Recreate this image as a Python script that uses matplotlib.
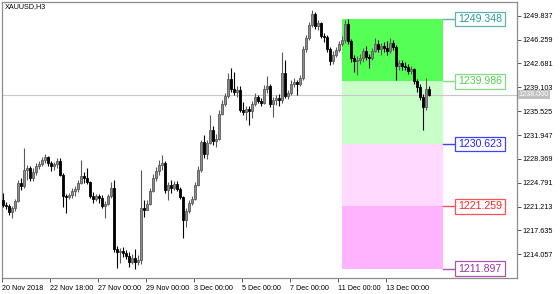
import matplotlib
matplotlib.use("Agg")
import matplotlib.pyplot as plt
from matplotlib.patches import Rectangle
import numpy as np

plt.rcParams['font.family'] = ['Liberation Sans', 'DejaVu Sans']

symbol = "XAUUSD,H3"

opens = [1222.20, 1221.45, 1221.30, 1220.40, 1221.00, 1222.05, 1224.75, 1224.30, 1226.70, 1227.00,
         1225.50, 1226.40, 1227.30, 1227.60, 1228.20, 1228.65, 1227.75, 1227.30, 1227.60, 1228.05,
         1225.95, 1222.80, 1222.65, 1222.95, 1223.55, 1223.85, 1224.75, 1225.80, 1225.50, 1224.90,
         1222.80, 1222.35, 1222.80, 1222.50, 1221.30, 1221.60, 1222.80, 1224.00, 1214.85, 1214.40,
         1214.55, 1214.25, 1213.80, 1212.90, 1213.50, 1212.90, 1213.20, 1221.00, 1220.70, 1221.60,
         1223.55, 1225.50, 1226.55, 1227.45, 1227.75, 1223.70, 1224.45, 1224.00, 1224.60, 1223.85,
         1222.65, 1219.20, 1220.55, 1221.75, 1222.35, 1224.45, 1226.70, 1230.90, 1229.10, 1230.75,
         1232.70, 1231.05, 1231.35, 1235.10, 1236.60, 1237.80, 1240.35, 1238.85, 1238.40, 1238.70,
         1235.70, 1235.40, 1235.85, 1235.55, 1236.60, 1237.65, 1237.05, 1236.75, 1238.85, 1239.30,
         1236.60, 1237.20, 1237.50, 1237.20, 1241.25, 1237.80, 1238.25, 1239.60, 1239.90, 1239.60,
         1240.50, 1244.85, 1246.50, 1248.45, 1250.10, 1248.30, 1248.75, 1246.80, 1246.65, 1244.85,
         1243.05, 1243.95, 1244.70, 1245.60, 1246.20, 1248.60, 1246.05, 1243.50, 1243.05, 1243.20,
         1243.50, 1244.55, 1243.65, 1243.50, 1244.55, 1245.60, 1244.85, 1245.30, 1245.00, 1244.55,
         1245.75, 1245.15, 1242.30, 1242.75, 1242.30, 1242.15, 1241.55, 1241.85, 1240.05, 1239.15,
         1237.65, 1236.15, 1238.85]

closes = [1221.45, 1221.30, 1220.40, 1221.00, 1222.05, 1224.75, 1224.30, 1226.70, 1227.00, 1225.50,
          1226.40, 1227.30, 1227.60, 1228.20, 1228.65, 1227.75, 1227.30, 1227.60, 1228.05, 1225.95,
          1222.80, 1222.65, 1222.95, 1223.55, 1223.85, 1224.75, 1225.80, 1225.50, 1224.90, 1222.80,
          1222.35, 1222.80, 1222.50, 1221.30, 1221.60, 1222.80, 1224.00, 1214.85, 1214.40, 1214.55,
          1214.25, 1213.80, 1212.90, 1213.50, 1212.90, 1213.20, 1221.00, 1220.70, 1221.60, 1223.55,
          1225.50, 1226.55, 1227.45, 1227.75, 1223.70, 1224.45, 1224.00, 1224.60, 1223.85, 1222.65,
          1219.20, 1220.55, 1221.75, 1222.35, 1224.45, 1226.70, 1230.90, 1229.10, 1230.75, 1232.70,
          1231.05, 1231.35, 1235.10, 1236.60, 1237.80, 1240.35, 1238.85, 1238.40, 1238.70, 1235.70,
          1235.40, 1235.85, 1235.55, 1236.60, 1237.65, 1237.05, 1236.75, 1238.85, 1239.30, 1236.60,
          1237.20, 1237.50, 1237.20, 1241.25, 1237.80, 1238.25, 1239.60, 1239.90, 1239.60, 1240.50,
          1244.85, 1246.50, 1248.45, 1250.10, 1248.30, 1248.75, 1246.80, 1246.65, 1244.85, 1243.05,
          1243.95, 1244.70, 1245.60, 1246.20, 1248.60, 1246.05, 1243.50, 1243.05, 1243.20, 1243.50,
          1244.55, 1243.65, 1243.50, 1244.55, 1245.60, 1244.85, 1245.30, 1245.00, 1244.55, 1245.75,
          1245.15, 1242.30, 1242.75, 1242.30, 1242.15, 1241.55, 1241.85, 1240.05, 1239.15, 1237.65,
          1236.15, 1238.85, 1238.00]

highs = [1223.25, 1221.90, 1221.60, 1221.30, 1222.35, 1225.20, 1225.50, 1230.00, 1227.45, 1227.30,
         1227.00, 1227.75, 1228.05, 1228.65, 1229.10, 1228.80, 1228.05, 1227.90, 1228.50, 1228.50,
         1226.25, 1223.10, 1223.25, 1224.00, 1224.30, 1225.20, 1228.20, 1226.40, 1227.00, 1225.05,
         1223.40, 1223.10, 1223.10, 1222.95, 1222.05, 1223.10, 1224.90, 1225.20, 1215.30, 1215.00,
         1215.15, 1214.70, 1214.40, 1214.10, 1214.85, 1213.95, 1226.70, 1222.20, 1222.20, 1224.00,
         1226.10, 1227.15, 1228.20, 1228.95, 1228.05, 1224.90, 1225.20, 1225.05, 1225.05, 1224.15,
         1222.80, 1221.00, 1222.20, 1222.80, 1224.90, 1227.30, 1231.20, 1231.95, 1231.20, 1234.95,
         1233.30, 1232.10, 1235.70, 1237.20, 1238.25, 1241.25, 1242.00, 1241.40, 1239.30, 1239.30,
         1236.90, 1236.30, 1236.30, 1237.05, 1238.25, 1237.95, 1237.50, 1239.45, 1240.80, 1239.60,
         1237.65, 1237.95, 1238.10, 1244.40, 1243.20, 1238.70, 1240.20, 1240.50, 1240.20, 1240.95,
         1245.30, 1246.95, 1248.90, 1250.70, 1250.40, 1249.20, 1248.90, 1247.25, 1246.95, 1245.15,
         1244.55, 1245.15, 1246.05, 1246.80, 1249.20, 1249.35, 1246.35, 1243.95, 1243.80, 1244.10,
         1245.00, 1245.30, 1244.10, 1245.00, 1246.50, 1246.20, 1245.75, 1245.90, 1246.05, 1246.50,
         1246.20, 1245.45, 1243.20, 1243.20, 1242.90, 1242.60, 1242.30, 1242.00, 1240.35, 1239.60,
         1238.10, 1240.50, 1239.30]

lows = [1221.15, 1220.85, 1219.95, 1219.50, 1220.55, 1221.90, 1223.70, 1224.00, 1225.20, 1225.05,
        1225.05, 1225.95, 1226.85, 1227.30, 1227.75, 1227.30, 1226.55, 1226.70, 1227.00, 1225.80,
        1221.15, 1220.25, 1222.35, 1222.50, 1222.80, 1223.40, 1224.60, 1224.75, 1224.60, 1222.50,
        1221.75, 1222.05, 1221.75, 1221.00, 1219.50, 1221.45, 1222.50, 1214.40, 1212.00, 1212.75,
        1213.65, 1213.35, 1212.15, 1212.60, 1211.90, 1212.45, 1212.60, 1219.65, 1220.70, 1221.45,
        1223.40, 1225.05, 1225.95, 1226.70, 1223.25, 1222.20, 1223.25, 1223.70, 1223.55, 1222.35,
        1216.50, 1218.15, 1220.25, 1221.45, 1222.20, 1224.30, 1226.40, 1228.50, 1228.35, 1230.60,
        1230.45, 1230.15, 1231.20, 1234.95, 1236.30, 1237.50, 1238.40, 1237.95, 1237.65, 1235.40,
        1234.95, 1234.20, 1233.45, 1234.50, 1236.30, 1236.75, 1236.30, 1236.60, 1238.25, 1236.15,
        1234.65, 1236.45, 1236.30, 1236.75, 1237.50, 1237.35, 1237.95, 1239.15, 1237.95, 1239.30,
        1240.20, 1244.40, 1246.20, 1248.15, 1247.85, 1247.70, 1246.50, 1245.90, 1244.40, 1242.45,
        1242.60, 1243.65, 1244.40, 1245.30, 1245.75, 1245.60, 1242.90, 1241.40, 1240.95, 1242.60,
        1242.90, 1243.20, 1242.00, 1243.20, 1244.40, 1244.40, 1243.95, 1244.40, 1243.95, 1244.25,
        1244.70, 1240.20, 1241.70, 1241.70, 1241.70, 1241.10, 1241.10, 1239.60, 1238.40, 1237.20,
        1232.70, 1235.70, 1237.80]

bid = 1238.000

x_ticks = [0, 16, 32, 48, 64, 80, 96, 112, 128]
x_labels = ["20 Nov 2018", "22 Nov 18:00", "27 Nov 00:00", "29 Nov 00:00", "3 Dec 00:00",
            "5 Dec 00:00", "7 Dec 00:00", "11 Dec 00:00", "13 Dec 00:00"]

y_ticks = [1249.837, 1246.259, 1242.681, 1239.103, 1235.525, 1231.947,
           1228.369, 1224.791, 1221.213, 1217.635, 1214.057]

levels = [1249.348, 1239.986, 1230.623, 1221.259, 1211.897]
zone_colors = ["#55ff55", "#c8ffc8", "#ffd9ff", "#ffb3ff"]
label_text_colors = ["#2a9a9a", "#55cc55", "#2020ff", "#ff2020", "#993399"]
label_edge_colors = ["#5fb0b0", "#80dd80", "#4040ff", "#ff5050", "#aa55aa"]

zone_start = 113
zone_end = 146.7


def draw_candles(ax):
    n = len(closes)
    for i in range(n):
        o, h, l, c = opens[i], highs[i], lows[i], closes[i]
        up = c >= o
        col = "#5a5a5a" if up else "#000000"
        face = "#8c8c8c" if up else "#000000"
        ax.vlines(i, l, h, color=col, lw=0.8, zorder=3)
        bot = min(o, c)
        hgt = max(abs(c - o), 0.12)
        ax.add_patch(Rectangle((i - 0.33, bot), 0.66, hgt, facecolor=face,
                               edgecolor=col, lw=0.6, zorder=4))


def main():
    fig = plt.figure(figsize=(5.6, 2.94), dpi=100)
    ax = fig.add_axes([2 / 560, 16 / 294, 515 / 560, 276 / 294])
    ax.set_xlim(-1 / 3, 514 / 3)
    ax.set_ylim(1210.5, 1251.9)

    # fibo zones
    for k in range(4):
        ax.add_patch(Rectangle((zone_start, levels[k + 1]), zone_end - zone_start,
                               levels[k] - levels[k + 1], facecolor=zone_colors[k],
                               edgecolor="none", zorder=1))

    ax.axhline(bid, color="#c8c8c8", lw=0.8, zorder=2)

    draw_candles(ax)

    # level labels
    bx0, bx1 = 150.7, 167.3
    for lv, tc, ec in zip(levels, label_text_colors, label_edge_colors):
        ax.plot([zone_end, bx0], [lv, lv], color=ec, lw=1, zorder=5, clip_on=False)
        ax.add_patch(Rectangle((bx0, lv - 1.1), bx1 - bx0, 2.2, facecolor="white",
                               edgecolor=ec, lw=0.9, zorder=6))
        ax.text((bx0 + bx1) / 2, lv, "%.3f" % lv, color=tc, fontsize=7.6,
                ha="center", va="center", zorder=7)

    for s in ax.spines.values():
        s.set_color("#8c8c8c")
        s.set_linewidth(0.9)

    ax.yaxis.tick_right()
    ax.set_yticks(y_ticks)
    ax.set_yticklabels(["%.3f" % v for v in y_ticks])
    ax.set_xticks([t - 0.4 for t in x_ticks])
    ax.set_xticklabels(x_labels, ha="left")
    ax.tick_params(axis="both", length=3, width=0.7, color="#555555",
                   labelsize=5.2, labelcolor="#000000", pad=1)
    ax.tick_params(axis="x", pad=2)

    ax.text(171.9, bid, "%.3f" % bid, color="white", fontsize=5.2, ha="left",
            va="center", zorder=8, clip_on=False,
            bbox=dict(boxstyle="square,pad=0.15", fc="#c0c0c0", ec="none"))

    ax.text(0.7, 1251.2, symbol, fontsize=5.2, ha="left", va="center", color="black")

    fig.savefig("out.png", dpi=100)


if __name__ == "__main__":
    main()
